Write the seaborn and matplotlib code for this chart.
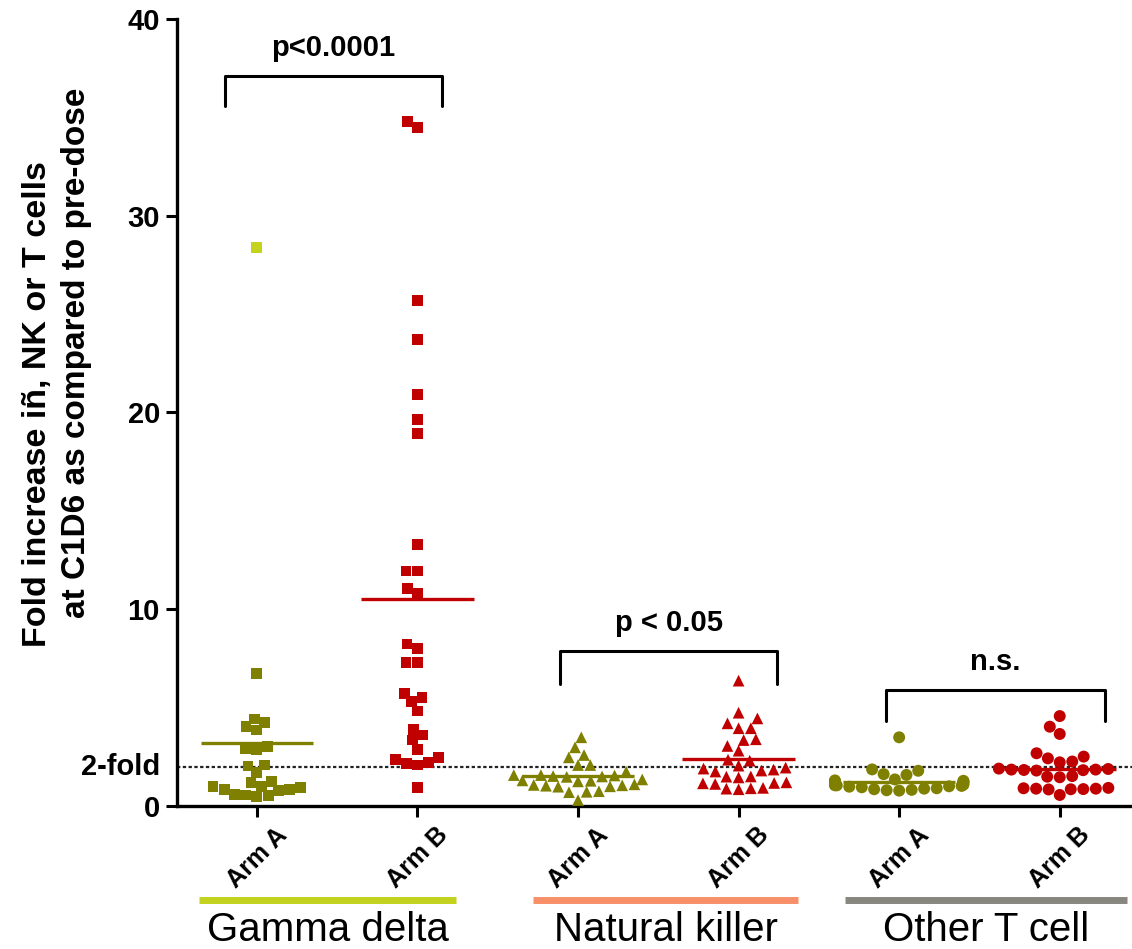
import numpy as np
import pandas as pd
import matplotlib
matplotlib.use("Agg")
import matplotlib.pyplot as plt
import matplotlib.transforms as mtransforms
import seaborn as sns

# ---- data ----
cell_types = ["Gamma delta", "Natural killer", "Other T cell"]
arms = ["Arm A", "Arm B"]

gd_arm_a = [28.4, 6.74, 4.42, 4.25, 4.03, 3.86, 3.01, 2.93, 2.85, 2.08, 2.03, 1.69,
            1.25, 1.20, 1.00, 0.98, 0.95, 0.85, 0.82, 0.80, 0.60, 0.56, 0.55, 0.50]
gd_arm_b = [34.8, 34.5, 25.7, 23.7, 20.9, 19.65, 18.94, 13.31, 11.94, 11.94, 11.06, 10.8,
            8.23, 8.01, 7.30, 7.30, 5.72, 5.52, 5.30, 4.83, 3.90, 3.61, 3.35, 2.85,
            2.45, 2.37, 2.20, 2.17, 2.08, 0.93]
nk_arm_a = [3.49, 2.98, 2.59, 2.47, 2.08, 2.08, 1.74, 1.57, 1.57, 1.55, 1.52, 1.50, 1.48,
            1.35, 1.30, 1.28, 1.25, 1.10, 1.07, 1.05, 1.03, 1.00, 0.98, 0.75, 0.72, 0.70, 0.30]
nk_arm_b = [6.37, 4.74, 4.45, 4.20, 3.95, 3.95, 3.39, 3.35, 3.05, 2.81, 2.35, 2.30, 2.05,
            1.95, 1.90, 1.85, 1.80, 1.75, 1.50, 1.49, 1.45, 1.20, 1.17, 1.15, 1.12, 0.92,
            0.90, 0.88, 0.85]
ot_arm_a = [3.49, 1.86, 1.79, 1.62, 1.58, 1.35, 1.30, 1.28, 1.25, 1.25, 1.22, 1.20, 1.18,
            1.15, 1.10, 1.08, 1.05, 1.05, 1.02, 1.00, 0.98, 0.95, 0.90, 0.88, 0.85, 0.82,
            0.80, 0.78]
ot_arm_b = [4.57, 4.03, 3.66, 2.68, 2.51, 2.42, 2.26, 2.22, 1.90, 1.88, 1.85, 1.85, 1.83,
            1.82, 1.80, 1.52, 1.49, 1.46, 0.92, 0.90, 0.88, 0.88, 0.86, 0.85, 0.84, 0.56]

p_labels = ["p<0.0001", "p < 0.05", "n.s."]
y_ticks = [0, 10, 20, 30, 40]
fold_line = 2
ylabel_lines = ["Fold increase iñ, NK or T cells", "at C1D6 as compared to pre-dose"]

series = {
    ("Gamma delta", "Arm A"): gd_arm_a, ("Gamma delta", "Arm B"): gd_arm_b,
    ("Natural killer", "Arm A"): nk_arm_a, ("Natural killer", "Arm B"): nk_arm_b,
    ("Other T cell", "Arm A"): ot_arm_a, ("Other T cell", "Arm B"): ot_arm_b,
}
rows = []
for (cell, arm), vals in series.items():
    for v in vals:
        rows.append({"cell": cell, "arm": arm, "slot": cell + " " + arm, "value": v})
df = pd.DataFrame(rows)
slot_order = [c + " " + a for c in cell_types for a in arms]

# ---- style ----
sns.set_theme(style="ticks")
plt.rcParams["font.family"] = ["Liberation Sans", "DejaVu Sans"]
plt.rcParams.update({"text.color": "black", "axes.labelcolor": "black",
                     "xtick.color": "black", "ytick.color": "black",
                     "axes.edgecolor": "black"})

olive = "#7f8000"
red = "#c00000"
arm_colors = {"Arm A": olive, "Arm B": red}
markers = {"Gamma delta": "s", "Natural killer": "^", "Other T cell": "o"}
msize = {"Gamma delta": 7.8, "Natural killer": 8.4, "Other T cell": 8.6}
bar_colors = ["#c3d21e", "#f79068", "#878780"]

fig = plt.figure(figsize=(11.32, 9.49), dpi=100)
ax = fig.add_axes([0.156, 0.1507, 0.844, 0.8293])

for cell in cell_types:
    sub = df[df["cell"] == cell]
    sns.swarmplot(data=sub, x="slot", y="value", hue="arm", order=slot_order,
                  palette=arm_colors, marker=markers[cell], size=msize[cell],
                  linewidth=0, legend=False, ax=ax, warn_thresh=1)

# the single high Arm A gamma delta point is drawn in light green
top_a = max(gd_arm_a)
for coll in ax.collections:
    offs = coll.get_offsets()
    if len(offs) == 0:
        continue
    fcs = coll.get_facecolors()
    if len(fcs) != len(offs):
        continue
    hit = np.isclose(offs[:, 1], top_a) & (np.abs(offs[:, 0]) < 0.5)
    if hit.any():
        fcs = fcs.copy()
        fcs[hit] = matplotlib.colors.to_rgba("#c4d41c")
        coll.set_facecolors(fcs)
        coll.set_edgecolors(fcs)

# mean lines
for i, slot in enumerate(slot_order):
    vals = df.loc[df["slot"] == slot, "value"]
    arm = "Arm A" if slot.endswith("Arm A") else "Arm B"
    ax.hlines(vals.mean(), i - 0.35, i + 0.35, color=arm_colors[arm], lw=2.4, zorder=3)

# 2-fold dotted line
ax.axhline(fold_line, color="#222222", lw=1.6, ls=(0, (1.5, 1.1)), zorder=1)

# axes
ax.set_xlim(-0.5, 5.45)
ax.set_ylim(0, 40)
ax.set_yticks(y_ticks)
ax.set_yticklabels([str(t) for t in y_ticks], fontsize=21, fontweight="bold")
ax.set_xticks(range(len(slot_order)))
ax.set_xticklabels(["Arm A" if s.endswith("Arm A") else "Arm B" for s in slot_order],
                   rotation=45, ha="center", fontsize=18, fontweight="bold")
ax.set_xlabel("")
ax.set_ylabel("")
ax.tick_params(axis="both", length=8, width=2.2, color="black", pad=4)
for side in ["left", "bottom"]:
    ax.spines[side].set_linewidth(2.4)
sns.despine(ax=ax)

# y label, two lines placed separately as in the reference
fig.text(38 / 1132, 1 - 404 / 949, ylabel_lines[0], rotation=90, ha="center",
         va="center", fontsize=24.5, fontweight="bold")
fig.text(77 / 1132, 1 - 353 / 949, ylabel_lines[1], rotation=90, ha="center",
         va="center", fontsize=24, fontweight="bold")

ax.annotate("2-fold", xy=(0, fold_line), xycoords=("axes fraction", "data"),
            xytext=(-12, 0), textcoords="offset points", ha="right", va="center",
            fontsize=21, fontweight="bold")

# significance brackets
brackets = [(-0.2, 1.15, 35.6, 37.1), (1.89, 3.24, 6.2, 7.9), (3.92, 5.28, 4.3, 5.9)]
for (x0, x1, yb, yt), lab in zip(brackets, p_labels):
    ax.plot([x0, x0, x1, x1], [yb, yt, yt, yb], color="black", lw=2.2, clip_on=False)
    ax.text((x0 + x1) / 2, yt + 0.7, lab, ha="center", va="bottom",
            fontsize=21, fontweight="bold")

# group bars and labels under the axis
trans = mtransforms.blended_transform_factory(ax.transData, ax.transAxes)
groups = [(-0.36, 1.24), (1.72, 3.37), (3.66, 5.42)]
for (g0, g1), col, name in zip(groups, bar_colors, cell_types):
    ax.plot([g0, g1], [-0.119, -0.119], color=col, lw=5, transform=trans,
            clip_on=False, solid_capstyle="butt")
    ax.text((g0 + g1) / 2, -0.158, name, transform=trans, ha="center", va="center",
            fontsize=29)

fig.savefig("out.png", dpi=100)
